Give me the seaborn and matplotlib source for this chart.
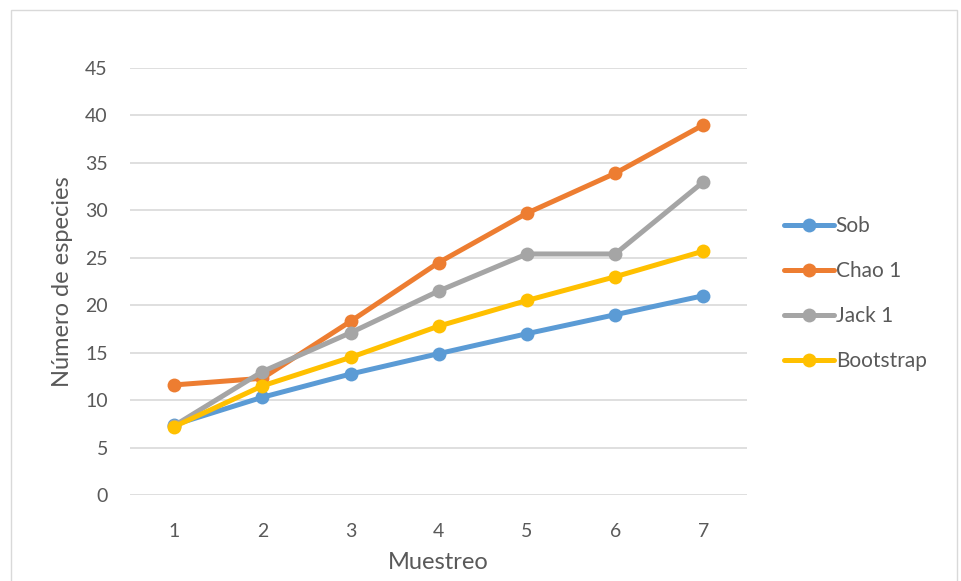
import pandas as pd
import matplotlib
matplotlib.use("Agg")
import matplotlib.pyplot as plt
import seaborn as sns
from matplotlib.patches import Rectangle

# datos
muestreo = [1, 2, 3, 4, 5, 6, 7]
sob = [7.4, 10.3, 12.75, 14.9, 17.0, 19.0, 21.0]
chao1 = [11.6, 12.3, 18.3, 24.5, 29.7, 33.9, 39.0]
jack1 = [7.3, 13.0, 17.1, 21.5, 25.4, 25.4, 33.0]
bootstrap = [7.2, 11.5, 14.5, 17.8, 20.5, 23.0, 25.7]

series = ["Sob", "Chao 1", "Jack 1", "Bootstrap"]
colores = ["#5B9BD5", "#ED7D31", "#A5A5A5", "#FFC000"]

df = pd.DataFrame({"Muestreo": muestreo * 4,
                   "valor": sob + chao1 + jack1 + bootstrap,
                   "serie": [s for s in series for _ in muestreo]})

sns.set_style("white")
plt.rcParams["font.family"] = ["Lato", "DejaVu Sans"]

fig = plt.figure(figsize=(9.61, 5.81), dpi=100)
ax = fig.add_axes([0.1353, 0.148, 0.6425, 0.735])

sns.lineplot(data=df, x="Muestreo", y="valor", hue="serie", hue_order=series,
             palette=colores, marker="o", markersize=10, markeredgewidth=0,
             linewidth=3.6, ax=ax)

ax.set_xlim(0.5, 7.5)
ax.set_ylim(0, 45)
ax.set_yticks(range(0, 50, 5))
ax.set_xticks(muestreo)
ax.grid(axis="y", color="#D9D9D9", linewidth=1.2)
ax.set_axisbelow(True)
for s in ax.spines.values():
    s.set_visible(False)
ax.tick_params(axis="y", length=0, labelsize=14, labelcolor="#595959", pad=16)
ax.tick_params(axis="x", length=0, labelsize=14, labelcolor="#595959", pad=20)

ax.set_xlabel("Muestreo", fontsize=17, color="#595959", labelpad=9)
ax.set_ylabel("Número de especies", fontsize=17, color="#595959", labelpad=9)

ax.legend(loc="center left", bbox_to_anchor=(1.045, 0.472), frameon=False,
          fontsize=15, labelcolor="#595959", handlelength=2.4,
          handletextpad=0.1, labelspacing=1.2, borderaxespad=0)

# borde del area del grafico
fig.patches.append(Rectangle((0.011, -0.01), 0.985, 0.993, transform=fig.transFigure,
                             fill=False, edgecolor="#D9D9D9", linewidth=1))

fig.savefig("out.png", dpi=100)
